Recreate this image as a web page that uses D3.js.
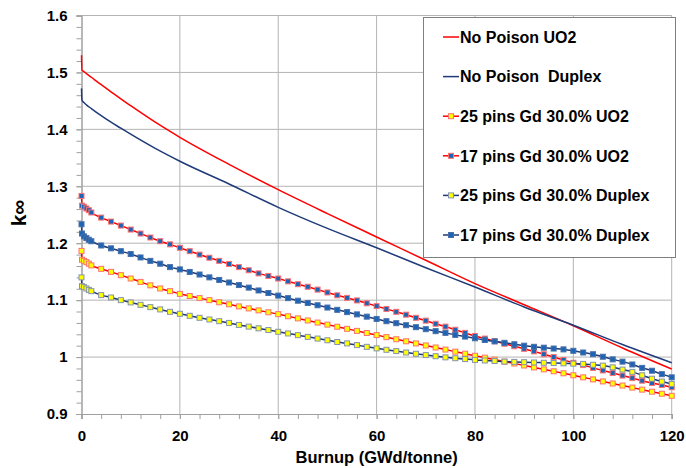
<!DOCTYPE html>
<html>
<head>
<meta charset="utf-8">
<script src="https://cdn.jsdelivr.net/npm/d3@7"></script>
<style>
  html, body { margin: 0; padding: 0; background: #fff; }
  svg text { font-family: "Liberation Sans", Arial, sans-serif; font-weight: bold; fill: #000; }
</style>
</head>
<body>
<div id="chart"></div>
<script>
const WIDTH = 686;
const HEIGHT = 468;
const PLOT_LEFT = 81.5;
const PLOT_RIGHT = 671.7;
const PLOT_TOP = 15.5;
const PLOT_BOTTOM = 414;

// burnup steps for the no-poison curves (GWd/tonne)
const burnupLine = [0, 0.1, 0.5, 1, 2, 4, 6, 8, 10, 15, 20, 30, 40, 50, 60, 70, 80, 90, 100, 110, 120];
const noPoisonUO2 = [1.53, 1.504, 1.5015, 1.498, 1.4915, 1.4785, 1.466, 1.4535, 1.4415, 1.4125, 1.386, 1.3385,
  1.294, 1.252, 1.211, 1.170, 1.129, 1.092, 1.055, 1.016, 0.979];
const noPoisonDuplex = [1.472, 1.451, 1.447, 1.443, 1.4365, 1.424, 1.4125, 1.402, 1.3915, 1.3665, 1.344, 1.304,
  1.263, 1.226, 1.192, 1.157, 1.123, 1.088, 1.056, 1.022, 0.990];

// burnup steps for the Gd cases (one marker each)
const burnupGd = [0, 0.1, 0.5, 1, 1.5, 2, 4, 6, 8, 10, 12, 14, 16, 18, 20, 22, 24, 26, 28, 30,
  32, 34, 36, 38, 40, 42, 44, 46, 48, 50, 52, 54, 56, 58, 60, 62, 64, 66, 68, 70,
  72, 74, 76, 78, 80, 82, 84, 86, 88, 90, 92, 94, 96, 98, 100, 102, 104, 106, 108, 110,
  112, 114, 116, 118, 120];
const gd25UO2 = [1.1865, 1.171, 1.169, 1.1667, 1.164, 1.161, 1.155, 1.1497, 1.1439, 1.138, 1.132, 1.126, 1.1205, 1.1158, 1.111,
  1.1073, 1.1036, 1.1, 1.0963, 1.0927, 1.089, 1.0855, 1.082, 1.0787, 1.0754,
  1.0717, 1.068, 1.0643, 1.0606, 1.057, 1.0533, 1.0496, 1.046, 1.0423, 1.0386,
  1.035, 1.0313, 1.0277, 1.024, 1.0204, 1.0168, 1.0132, 1.0095, 1.0059, 1.0023,
  0.999, 0.9955, 0.992, 0.9887, 0.9852, 0.9818, 0.9784, 0.975, 0.9715, 0.968,
  0.9644, 0.9608, 0.9572, 0.9536, 0.95, 0.9464, 0.9428, 0.9392, 0.9356, 0.932];
const gd17UO2 = [1.283, 1.266, 1.264, 1.261, 1.258, 1.254, 1.245, 1.238, 1.231, 1.224, 1.217, 1.210, 1.2035, 1.198, 1.192,
  1.186, 1.180, 1.1745, 1.169, 1.1635, 1.158, 1.1525, 1.147, 1.1425, 1.138,
  1.133, 1.128, 1.1235, 1.1185, 1.1135, 1.1085, 1.104, 1.0995, 1.0945, 1.0895,
  1.0845, 1.0795, 1.0745, 1.069, 1.064, 1.0585, 1.0535, 1.048, 1.0425, 1.037,
  1.0325, 1.028, 1.0235, 1.019, 1.0145, 1.010, 1.005, 1.000, 0.995, 0.990,
  0.986, 0.981, 0.9765, 0.972, 0.9675, 0.963, 0.9585, 0.9545, 0.951, 0.947];
const gd25Duplex = [1.14, 1.1246, 1.1228, 1.1205, 1.118, 1.1158, 1.1088, 1.1047, 1.100, 1.096, 1.0918, 1.0877, 1.0837, 1.0795, 1.076,
  1.0725, 1.069, 1.066, 1.063, 1.060, 1.0565, 1.0535, 1.0505, 1.0475, 1.0444,
  1.0415, 1.0385, 1.0355, 1.0325, 1.0295, 1.0265, 1.024, 1.021, 1.018, 1.0153,
  1.0128, 1.0105, 1.008, 1.0058, 1.0035, 1.0015, 0.9995, 0.998, 0.9965, 0.995,
  0.994, 0.993, 0.992, 0.9915, 0.991, 0.9905, 0.990, 0.9895, 0.989, 0.9885,
  0.988, 0.9865, 0.985, 0.982, 0.978, 0.974, 0.968, 0.962, 0.957, 0.9526];
const gd17Duplex = [1.2333, 1.217, 1.212, 1.209, 1.206, 1.2035, 1.196, 1.191, 1.186, 1.181, 1.175, 1.169, 1.164, 1.158, 1.154,
  1.1495, 1.145, 1.140, 1.1355, 1.131, 1.1265, 1.122, 1.117, 1.1125, 1.108,
  1.1035, 1.099, 1.095, 1.091, 1.087, 1.083, 1.079, 1.075, 1.071, 1.067,
  1.063, 1.0595, 1.056, 1.0525, 1.049, 1.0455, 1.0425, 1.039, 1.036, 1.033,
  1.030, 1.0275, 1.025, 1.0225, 1.020, 1.018, 1.0165, 1.015, 1.0135, 1.011,
  1.008, 1.005, 1.0006, 0.996, 0.992, 0.987, 0.981, 0.976, 0.970, 0.9644];

const xTicks = [0, 20, 40, 60, 80, 100, 120];
const yTicks = [0.9, 1, 1.1, 1.2, 1.3, 1.4, 1.5, 1.6];

const RED = "#ff0000";
const NAVY = "#1f3a78";
const MARKER_BLUE = "#1c64b4";
const MARKER_YELLOW = "#ffff00";

// drawing order follows the legend order
const series = [
  { name: "No Poison UO2", x: burnupLine, y: noPoisonUO2, line: RED },
  { name: "No Poison  Duplex", x: burnupLine, y: noPoisonDuplex, line: NAVY },
  { name: "25 pins Gd 30.0% UO2", x: burnupGd, y: gd25UO2, line: RED, fill: MARKER_YELLOW, edge: "#ff7070" },
  { name: "17 pins Gd 30.0% UO2", x: burnupGd, y: gd17UO2, line: RED, fill: MARKER_BLUE, edge: "#ff7070" },
  { name: "25 pins Gd 30.0% Duplex", x: burnupGd, y: gd25Duplex, line: NAVY, fill: MARKER_YELLOW, edge: "#8393b0" },
  { name: "17 pins Gd 30.0% Duplex", x: burnupGd, y: gd17Duplex, line: NAVY, fill: MARKER_BLUE, edge: "#4a6fa8" }
];

const svg = d3.select("#chart")
  .append("svg")
  .attr("width", WIDTH)
  .attr("height", HEIGHT);

const x = d3.scaleLinear().domain([0, 120]).range([PLOT_LEFT, PLOT_RIGHT]);
const y = d3.scaleLinear().domain([0.9, 1.6]).range([PLOT_BOTTOM, PLOT_TOP]);

// grid
svg.append("g")
  .selectAll("line.vgrid")
  .data(xTicks.slice(1))
  .join("line")
  .attr("x1", d => x(d)).attr("x2", d => x(d))
  .attr("y1", PLOT_TOP).attr("y2", PLOT_BOTTOM)
  .style("stroke", "#b4b4b4")
  .style("stroke-width", 1);
svg.append("g")
  .selectAll("line.hgrid")
  .data(yTicks.slice(1))
  .join("line")
  .attr("x1", PLOT_LEFT).attr("x2", PLOT_RIGHT)
  .attr("y1", d => y(d)).attr("y2", d => y(d))
  .style("stroke", "#b4b4b4")
  .style("stroke-width", 1);

// axes
const minorY = d3.range(0.9, 1.6001, 0.02);
const minorX = d3.range(0, 120.001, 4);

const yAxis = svg.append("g")
  .attr("transform", `translate(${PLOT_LEFT},0)`)
  .call(d3.axisLeft(y).tickValues(minorY).tickSize(5).tickFormat(""));
yAxis.append("g")
  .call(d3.axisLeft(y).tickValues(yTicks).tickSize(5).tickPadding(9)
    .tickFormat(d => d3.format("~g")(d)));

const xAxis = svg.append("g")
  .attr("transform", `translate(0,${PLOT_BOTTOM})`)
  .call(d3.axisBottom(x).tickValues(minorX).tickSize(5).tickFormat(""));
xAxis.append("g")
  .call(d3.axisBottom(x).tickValues(xTicks).tickSize(5).tickPadding(11));

svg.selectAll(".domain").style("stroke", "#a0a0a0").style("stroke-width", 1);
svg.selectAll(".tick line").style("stroke", "#a0a0a0");
svg.selectAll(".tick text")
  .style("font-size", "15px")
  .style("font-family", "'Liberation Sans', Arial, sans-serif")
  .style("font-weight", "bold")
  .style("fill", "#000");

// axis titles
svg.append("text")
  .attr("x", (PLOT_LEFT + PLOT_RIGHT) / 2)
  .attr("y", 463)
  .attr("text-anchor", "middle")
  .style("font-size", "16.5px")
  .text("Burnup (GWd/tonne)");
svg.append("text")
  .attr("transform", `translate(26,213) rotate(-90)`)
  .attr("text-anchor", "middle")
  .style("font-size", "21px")
  .text("k∞");

// series
const line = d3.line()
  .x(d => x(d[0]))
  .y(d => y(d[1]))
  .curve(d3.curveMonotoneX);

series.forEach(s => {
  const pts = s.x.map((v, i) => [v, s.y[i]]);
  svg.append("path")
    .datum(pts)
    .attr("d", line)
    .style("fill", "none")
    .style("stroke", s.line)
    .style("stroke-width", 1.5);
  if (s.fill) {
    svg.append("g")
      .selectAll("rect")
      .data(pts)
      .join("rect")
      .attr("x", d => x(d[0]) - 2.5)
      .attr("y", d => y(d[1]) - 2.5)
      .attr("width", 5)
      .attr("height", 5)
      .style("fill", s.fill)
      .style("stroke", s.edge)
      .style("stroke-width", 1);
  }
});

// legend
const legend = svg.append("g");
legend.append("rect")
  .attr("x", 423.5).attr("y", 17.5)
  .attr("width", 252).attr("height", 240)
  .style("fill", "#fff")
  .style("stroke", "#7f7f7f")
  .style("stroke-width", 1);

const rows = legend.selectAll("g.row")
  .data(series)
  .join("g")
  .attr("transform", (d, i) => `translate(0,${37 + i * 39.6})`);
rows.append("line")
  .attr("x1", 443).attr("x2", 459)
  .attr("y1", 0).attr("y2", 0)
  .style("stroke", d => d.line)
  .style("stroke-width", 1.5);
rows.filter(d => d.fill)
  .append("rect")
  .attr("x", 448.5).attr("y", -2.5)
  .attr("width", 5).attr("height", 5)
  .style("fill", d => d.fill)
  .style("stroke", d => d.edge)
  .style("stroke-width", 1);
rows.append("text")
  .attr("x", 460)
  .attr("y", 0)
  .attr("dy", "0.36em")
  .style("font-size", "16px")
  .style("white-space", "pre")
  .text(d => d.name);
</script>
</body>
</html>
